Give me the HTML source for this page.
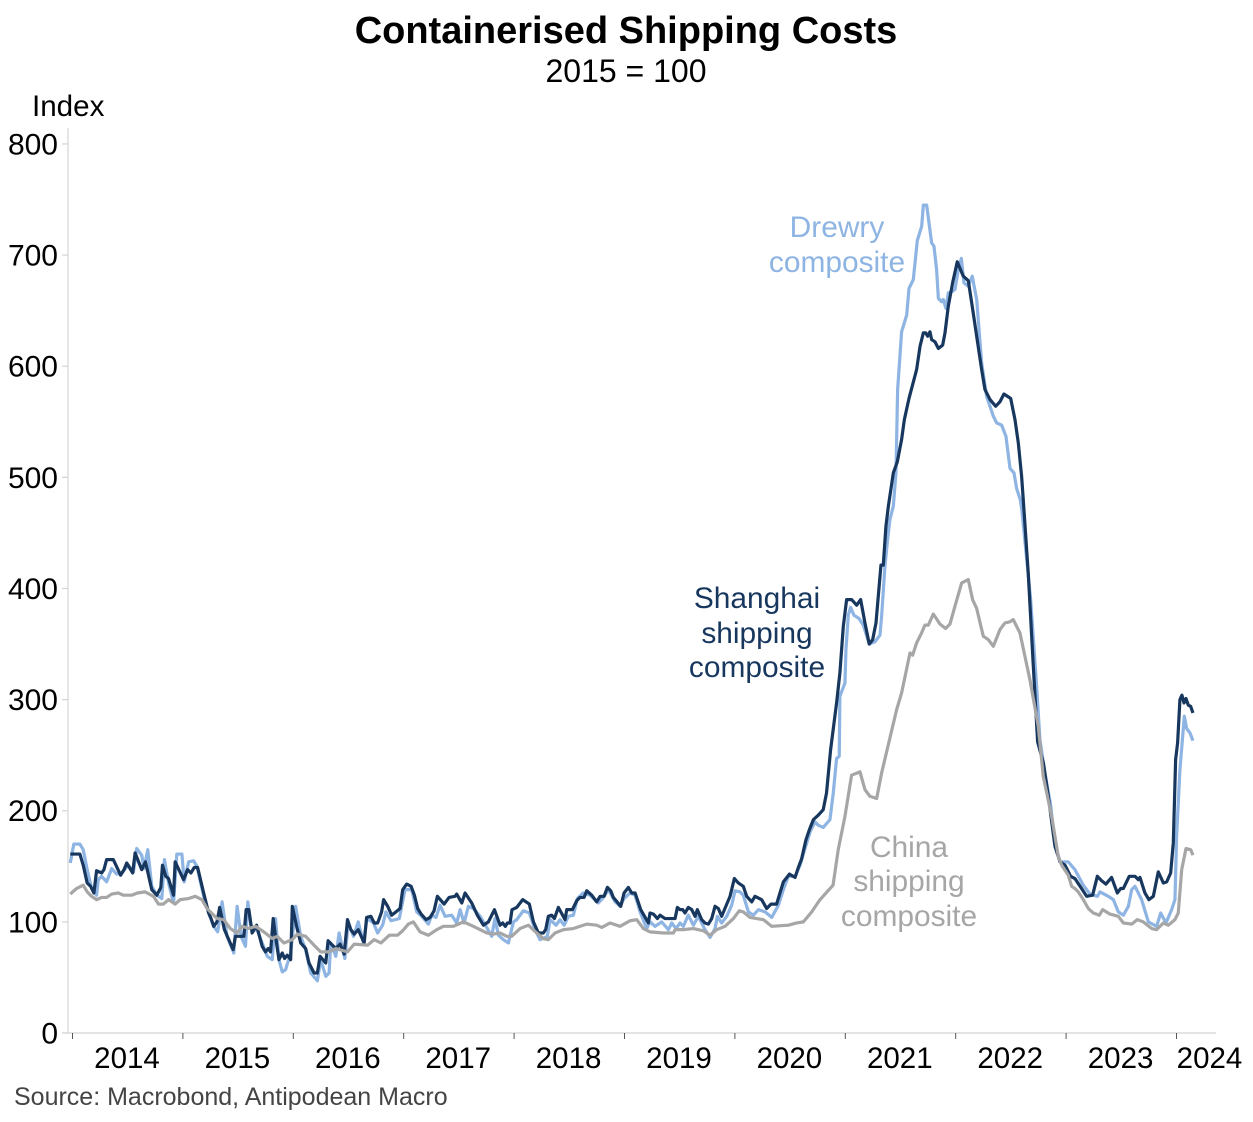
<!DOCTYPE html>
<html>
<head>
<meta charset="utf-8">
<style>
html,body{margin:0;padding:0;background:#fff;}
svg{display:block;font-family:"Liberation Sans",Arial,sans-serif;}
</style>
</head>
<body>
<svg id="chart" width="1253" height="1122" viewBox="0 0 1253 1122" xmlns="http://www.w3.org/2000/svg">
<rect x="0" y="0" width="1253" height="1122" fill="#ffffff"/>
<text x="626" y="43" text-anchor="middle" font-size="38" font-weight="bold" fill="#000">Containerised Shipping Costs</text>
<text x="626" y="82" text-anchor="middle" font-size="32" fill="#000">2015 = 100</text>
<text x="32" y="116" font-size="29.6" fill="#000">Index</text>
<g id="axes"></g>
<g id="series"></g>
<g font-size="29.9" fill="#8db4e2" text-anchor="middle">
<text x="837" y="237">Drewry</text>
<text x="837" y="272">composite</text>
</g>
<g font-size="29.9" fill="#17375e" text-anchor="middle">
<text x="757" y="608">Shanghai</text>
<text x="757" y="643">shipping</text>
<text x="757" y="677">composite</text>
</g>
<g font-size="29.9" fill="#a6a6a6" text-anchor="middle">
<text x="909" y="857">China</text>
<text x="909" y="891">shipping</text>
<text x="909" y="926">composite</text>
</g>
<text x="14" y="1105" font-size="25" fill="#444444">Source: Macrobond, Antipodean Macro</text>
</svg>
<script>
const yTicks = [0, 100, 200, 300, 400, 500, 600, 700, 800];
const xYears = [2014, 2015, 2016, 2017, 2018, 2019, 2020, 2021, 2022, 2023, 2024];

const shanghaiDates = [
2013.98,2014.067,2014.097,2014.133,2014.164,2014.194,2014.218,2014.264,2014.285,2014.309,2014.37,2014.436,2014.467,2014.491,2014.545,2014.567,2014.627,2014.661,2014.718,2014.764,2014.8,2014.815,2014.845,2014.87,2014.915,2014.93,
2015.006,2015.042,2015.073,2015.103,2015.133,2015.188,2015.233,2015.255,2015.279,2015.309,2015.333,2015.376,2015.455,2015.476,2015.552,2015.573,2015.597,2015.627,2015.667,2015.718,2015.748,2015.773,2015.794,2015.818,2015.839,2015.87,2015.9,2015.921,2015.945,2015.976,2015.991,
2016.03,2016.067,2016.112,2016.142,2016.188,2016.218,2016.242,2016.294,2016.315,2016.355,2016.385,2016.424,2016.461,2016.491,2016.521,2016.552,2016.588,2016.642,2016.664,2016.703,2016.733,2016.764,2016.8,2016.818,2016.855,2016.891,2016.93,2016.967,2016.991,
2017.027,2017.067,2017.097,2017.127,2017.158,2017.203,2017.239,2017.275,2017.305,2017.366,2017.411,2017.465,2017.48,2017.526,2017.556,2017.616,2017.667,2017.722,2017.767,2017.822,2017.873,2017.897,2017.921,2017.939,2017.963,2017.981,
2018.024,2018.078,2018.138,2018.175,2018.22,2018.265,2018.286,2018.31,2018.34,2018.365,2018.401,2018.461,2018.477,2018.528,2018.567,2018.597,2018.634,2018.658,2018.703,2018.748,2018.779,2018.815,2018.845,2018.875,2018.899,2018.966,2018.996,
2019.035,2019.065,2019.096,2019.147,2019.216,2019.231,2019.262,2019.298,2019.322,2019.367,2019.458,2019.479,2019.503,2019.527,2019.548,2019.578,2019.609,2019.639,2019.66,2019.699,2019.729,2019.76,2019.79,2019.82,2019.85,2019.88,2019.956,2019.995,
2020.031,2020.076,2020.107,2020.152,2020.182,2020.242,2020.288,2020.327,2020.378,2020.402,2020.439,2020.494,2020.545,2020.575,2020.605,2020.644,2020.675,2020.711,2020.755,2020.8,2020.83,2020.867,2020.921,2020.951,2020.982,
2021.012,2021.057,2021.103,2021.139,2021.178,2021.217,2021.248,2021.278,2021.323,2021.344,2021.368,2021.39,2021.435,2021.471,2021.51,2021.535,2021.577,2021.646,2021.677,2021.707,2021.728,2021.746,2021.767,2021.782,2021.812,2021.843,2021.882,2021.903,2021.933,2021.972,
2022.014,2022.069,2022.114,2022.145,2022.19,2022.235,2022.265,2022.311,2022.362,2022.401,2022.437,2022.498,2022.537,2022.567,2022.597,2022.612,2022.657,2022.703,2022.742,2022.794,2022.839,2022.899,2022.945,2022.99,
2023.041,2023.08,2023.14,2023.186,2023.24,2023.283,2023.322,2023.361,2023.412,2023.464,2023.494,2023.518,2023.572,2023.624,2023.654,2023.669,2023.714,2023.75,2023.79,2023.835,2023.881,2023.911,2023.947,2023.971,2023.992,
2024.01,2024.031,2024.049,2024.068,2024.086,2024.107,2024.128,2024.149];
const shanghaiValues = [
161,161,151,135,132,126,146,144,147,156,156,142,147,153,144,162,147,154,129,124,131,151,141,139,124,154,
138,147,144,149,149,126,108,103,96,100,113,93,75,87,87,111,111,90,97,78,73,76,73,103,87,66,72,67,70,66,114,
96,81,76,63,54,54,69,63,83,79,76,80,71,102,93,89,93,81,104,105,99,99,109,120,114,106,109,112,129,
134,132,124,112,107,102,104,110,123,116,122,123,125,117,126,117,106,97,100,111,97,99,96,99,99,111,
113,120,116,100,90,90,93,105,106,103,113,102,111,111,119,122,122,128,124,118,123,123,131,128,122,114,126,
131,126,126,111,99,108,107,103,106,103,103,113,111,111,108,113,111,105,111,102,99,98,103,114,112,105,123,139,
135,132,123,118,123,120,112,116,116,124,136,143,140,149,157,174,183,192,196,201,216,255,297,324,366,
390,390,385,390,369,350,354,369,421,421,456,474,504,514,534,552,571,597,618,630,630,627,631,624,622,616,619,630,654,675,
694,681,677,657,627,597,579,570,564,568,575,571,552,531,501,480,414,330,262,243,213,168,154,151,
141,139,130,123,124,141,137,134,140,126,130,130,141,141,138,140,126,120,123,145,135,136,144,171,246,
261,300,304,297,301,295,294,288];

const drewryDates = [
2013.98,2014.012,2014.067,2014.097,2014.133,2014.173,2014.218,2014.233,2014.264,2014.309,2014.355,2014.4,2014.445,2014.506,2014.552,2014.582,2014.627,2014.648,2014.682,2014.718,2014.764,2014.809,2014.833,2014.87,2014.915,2014.945,2014.991,
2015.012,2015.052,2015.097,2015.127,2015.188,2015.233,2015.279,2015.315,2015.355,2015.4,2015.461,2015.491,2015.527,2015.567,2015.588,2015.627,2015.667,2015.718,2015.764,2015.809,2015.839,2015.87,2015.9,2015.93,2015.976,
2016.021,2016.067,2016.112,2016.158,2016.218,2016.248,2016.294,2016.324,2016.339,2016.385,2016.415,2016.467,2016.497,2016.545,2016.588,2016.636,2016.667,2016.727,2016.764,2016.809,2016.839,2016.885,2016.96,2016.976,
2017.012,2017.073,2017.118,2017.163,2017.224,2017.254,2017.293,2017.329,2017.375,2017.435,2017.48,2017.511,2017.547,2017.586,2017.631,2017.692,2017.746,2017.797,2017.827,2017.858,2017.903,2017.948,2017.994,
2018.024,2018.084,2018.138,2018.19,2018.235,2018.301,2018.326,2018.38,2018.416,2018.453,2018.492,2018.537,2018.573,2018.627,2018.688,2018.763,2018.809,2018.854,2018.915,2018.96,2018.996,
2019.05,2019.096,2019.141,2019.201,2019.231,2019.277,2019.337,2019.398,2019.428,2019.467,2019.503,2019.533,2019.578,2019.624,2019.669,2019.729,2019.775,2019.82,2019.841,2019.88,2019.926,2019.971,
2020.001,2020.046,2020.076,2020.122,2020.167,2020.213,2020.273,2020.334,2020.394,2020.439,2020.484,2020.545,2020.59,2020.635,2020.681,2020.725,2020.755,2020.8,2020.861,2020.891,2020.921,2020.945,2020.951,2020.997,
2021.006,2021.027,2021.048,2021.078,2021.124,2021.163,2021.217,2021.268,2021.314,2021.329,2021.359,2021.38,2021.404,2021.435,2021.459,2021.474,2021.51,2021.556,2021.577,2021.616,2021.652,2021.692,2021.707,2021.737,2021.782,2021.803,2021.827,2021.843,2021.873,2021.888,2021.912,2021.933,2021.963,2021.993,
2022.024,2022.051,2022.075,2022.114,2022.15,2022.19,2022.235,2022.28,2022.341,2022.371,2022.416,2022.455,2022.492,2022.528,2022.552,2022.585,2022.6,2022.679,2022.733,2022.763,2022.81,2022.86,2022.9,2022.945,
2023.02,2023.08,2023.156,2023.216,2023.283,2023.307,2023.382,2023.428,2023.473,2023.519,2023.564,2023.594,2023.624,2023.684,2023.745,2023.82,2023.857,2023.905,2023.956,2023.986,
2024.001,2024.031,2024.071,2024.092,2024.122,2024.149];
const drewryValues = [
153,170,170,165,147,130,124,138,141,136,148,143,144,151,145,166,160,148,165,132,124,121,156,135,117,161,161,
136,154,155,150,123,108,96,91,118,87,72,114,87,78,118,91,94,81,69,66,103,66,55,57,72,
114,87,75,54,47,66,51,54,81,69,90,67,99,87,100,81,103,99,90,97,109,101,103,111,
129,129,109,105,98,106,104,115,105,106,99,111,99,114,112,105,96,87,103,88,84,81,100,
102,110,108,93,84,87,102,97,102,97,105,106,121,126,124,117,122,129,118,114,121,
126,124,109,94,100,96,100,93,99,94,99,96,106,97,105,93,86,94,105,99,105,115,
128,127,124,109,106,111,109,104,115,129,141,141,151,166,181,190,187,185,192,216,247,249,303,315,
345,376,383,376,373,367,350,352,358,375,420,441,462,474,504,579,631,646,670,678,713,726,745,745,711,708,687,661,658,660,652,666,667,669,
687,697,675,672,681,660,603,573,555,549,547,537,508,504,490,480,470,390,312,264,233,205,170,154,
154,147,133,125,123,127,123,120,109,106,114,129,132,120,100,96,108,99,111,120,
177,237,285,274,270,263];

const chinaDates = [
2013.98,2014.036,2014.097,2014.133,2014.173,2014.218,2014.264,2014.309,2014.355,2014.415,2014.461,2014.536,2014.588,2014.658,2014.733,2014.779,2014.824,2014.87,2014.93,2014.976,
2015.052,2015.112,2015.173,2015.218,2015.309,2015.37,2015.43,2015.491,2015.536,2015.597,2015.658,2015.733,2015.809,2015.855,2015.915,2015.991,
2016.036,2016.112,2016.188,2016.248,2016.324,2016.385,2016.491,2016.552,2016.673,2016.733,2016.794,2016.87,2016.945,2016.991,
2017.042,2017.088,2017.148,2017.224,2017.299,2017.359,2017.45,2017.541,2017.631,2017.752,2017.812,2017.873,2017.933,2017.978,
2018.054,2018.13,2018.205,2018.265,2018.31,2018.371,2018.447,2018.537,2018.658,2018.748,2018.794,2018.869,2018.96,
2019.05,2019.111,2019.171,2019.231,2019.352,2019.443,2019.458,2019.533,2019.624,2019.715,2019.775,2019.835,2019.911,2019.986,
2020.04,2020.076,2020.137,2020.258,2020.334,2020.484,2020.56,2020.62,2020.696,2020.771,2020.889,2020.936,2020.997,
2021.057,2021.133,2021.178,2021.223,2021.284,2021.329,2021.465,2021.51,2021.586,2021.61,2021.646,2021.691,2021.721,2021.752,2021.797,2021.857,2021.909,2021.948,2021.993,
2022.054,2022.114,2022.153,2022.19,2022.25,2022.295,2022.341,2022.401,2022.446,2022.491,2022.521,2022.582,2022.672,2022.748,2022.793,2022.869,2022.929,2022.96,
2023.02,2023.05,2023.08,2023.11,2023.156,2023.201,2023.246,2023.301,2023.331,2023.397,2023.473,2023.519,2023.594,2023.645,2023.699,2023.775,2023.82,2023.881,2023.926,2023.986,
2024.016,2024.047,2024.086,2024.128,2024.149];
const chinaValues = [
125,130,133,127,123,120,122,122,125,126,124,124,126,127,123,116,116,120,116,120,
121,123,120,112,103,102,94,90,96,94,96,91,85,87,81,84,
89,87,79,73,73,76,73,80,79,84,81,88,88,92,
98,100,91,88,93,96,96,100,96,90,89,90,87,87,
94,97,90,85,84,90,93,94,98,97,95,99,96,
101,102,94,91,90,90,93,93,94,92,88,93,96,103,
110,109,104,102,96,97,99,100,109,120,133,165,195,
232,235,219,213,211,234,291,306,342,340,351,360,367,367,377,368,364,368,384,
405,408,390,382,357,354,348,363,369,370,372,360,318,276,231,195,159,151,
142,132,130,127,120,112,108,106,111,107,105,99,98,102,100,94,93,99,97,102,
108,147,166,165,160];

const NS = 'http://www.w3.org/2000/svg';
const plotLeft = 68, plotBottom = 1033, plotRight = 1216, plotTop = 128;
function xScale(year) { return 72.5 + (year - 2014) * 110.4; }
function yScale(value) { return 1033 - value * 1.1113; }

function svgEl(tag, attrs) {
  const el = document.createElementNS(NS, tag);
  for (const k in attrs) el.setAttribute(k, attrs[k]);
  return el;
}

const axes = document.getElementById('axes');
const axisColor = '#d4d4d4';

const yAxisLine = svgEl('line', {x1: plotLeft, x2: plotLeft, y1: plotTop, y2: plotBottom, stroke: axisColor, 'stroke-width': 1.2});


axes.appendChild(yAxisLine);

const xAxisLine = svgEl('line', {x1: plotLeft - 6, x2: plotRight, y1: plotBottom, y2: plotBottom, stroke: axisColor, 'stroke-width': 1.2});


axes.appendChild(xAxisLine);

yTicks.forEach(function (v) {
  const y = yScale(v);
  const tick = svgEl('line', {x1: plotLeft - 6, x2: plotLeft, y1: y, y2: y, stroke: axisColor, 'stroke-width': 1.2});
  
  
  axes.appendChild(tick);
  const label = svgEl('text', {x: 58, y: y + 10.5, 'text-anchor': 'end', 'font-size': 30, fill: '#000'});
  
  
  label.textContent = String(v);
  axes.appendChild(label);
});

xYears.forEach(function (yr) {
  const x = xScale(yr);
  const tick = svgEl('line', {x1: x, x2: x, y1: plotBottom, y2: plotBottom + 6, stroke: '#555555', 'stroke-width': 1});
  
  
  axes.appendChild(tick);
  const cx = yr === 2024 ? 1209.5 : xScale(yr + 0.5) - 0.7;
  const label = svgEl('text', {x: cx, y: 1068, 'text-anchor': 'middle', 'font-size': 29.5, fill: '#000'});
  
  
  label.textContent = String(yr);
  axes.appendChild(label);
});

function drawSeries(dates, values, color, name) {
  const n = Math.min(dates.length, values.length);
  let d = '';
  for (let i = 0; i < n; i++) {
    d += (i ? 'L' : 'M') + xScale(dates[i]).toFixed(2) + ' ' + yScale(values[i]).toFixed(2);
  }
  const path = svgEl('path', {d: d, fill: 'none', stroke: color, 'stroke-width': 3.2, 'stroke-linejoin': 'round'});
  
  
  document.getElementById('series').appendChild(path);
}

drawSeries(drewryDates, drewryValues, '#8db4e2', 'drewry-composite-line');
drawSeries(shanghaiDates, shanghaiValues, '#17375e', 'shanghai-composite-line');
drawSeries(chinaDates, chinaValues, '#a6a6a6', 'china-composite-line');
</script>
</body>
</html>
